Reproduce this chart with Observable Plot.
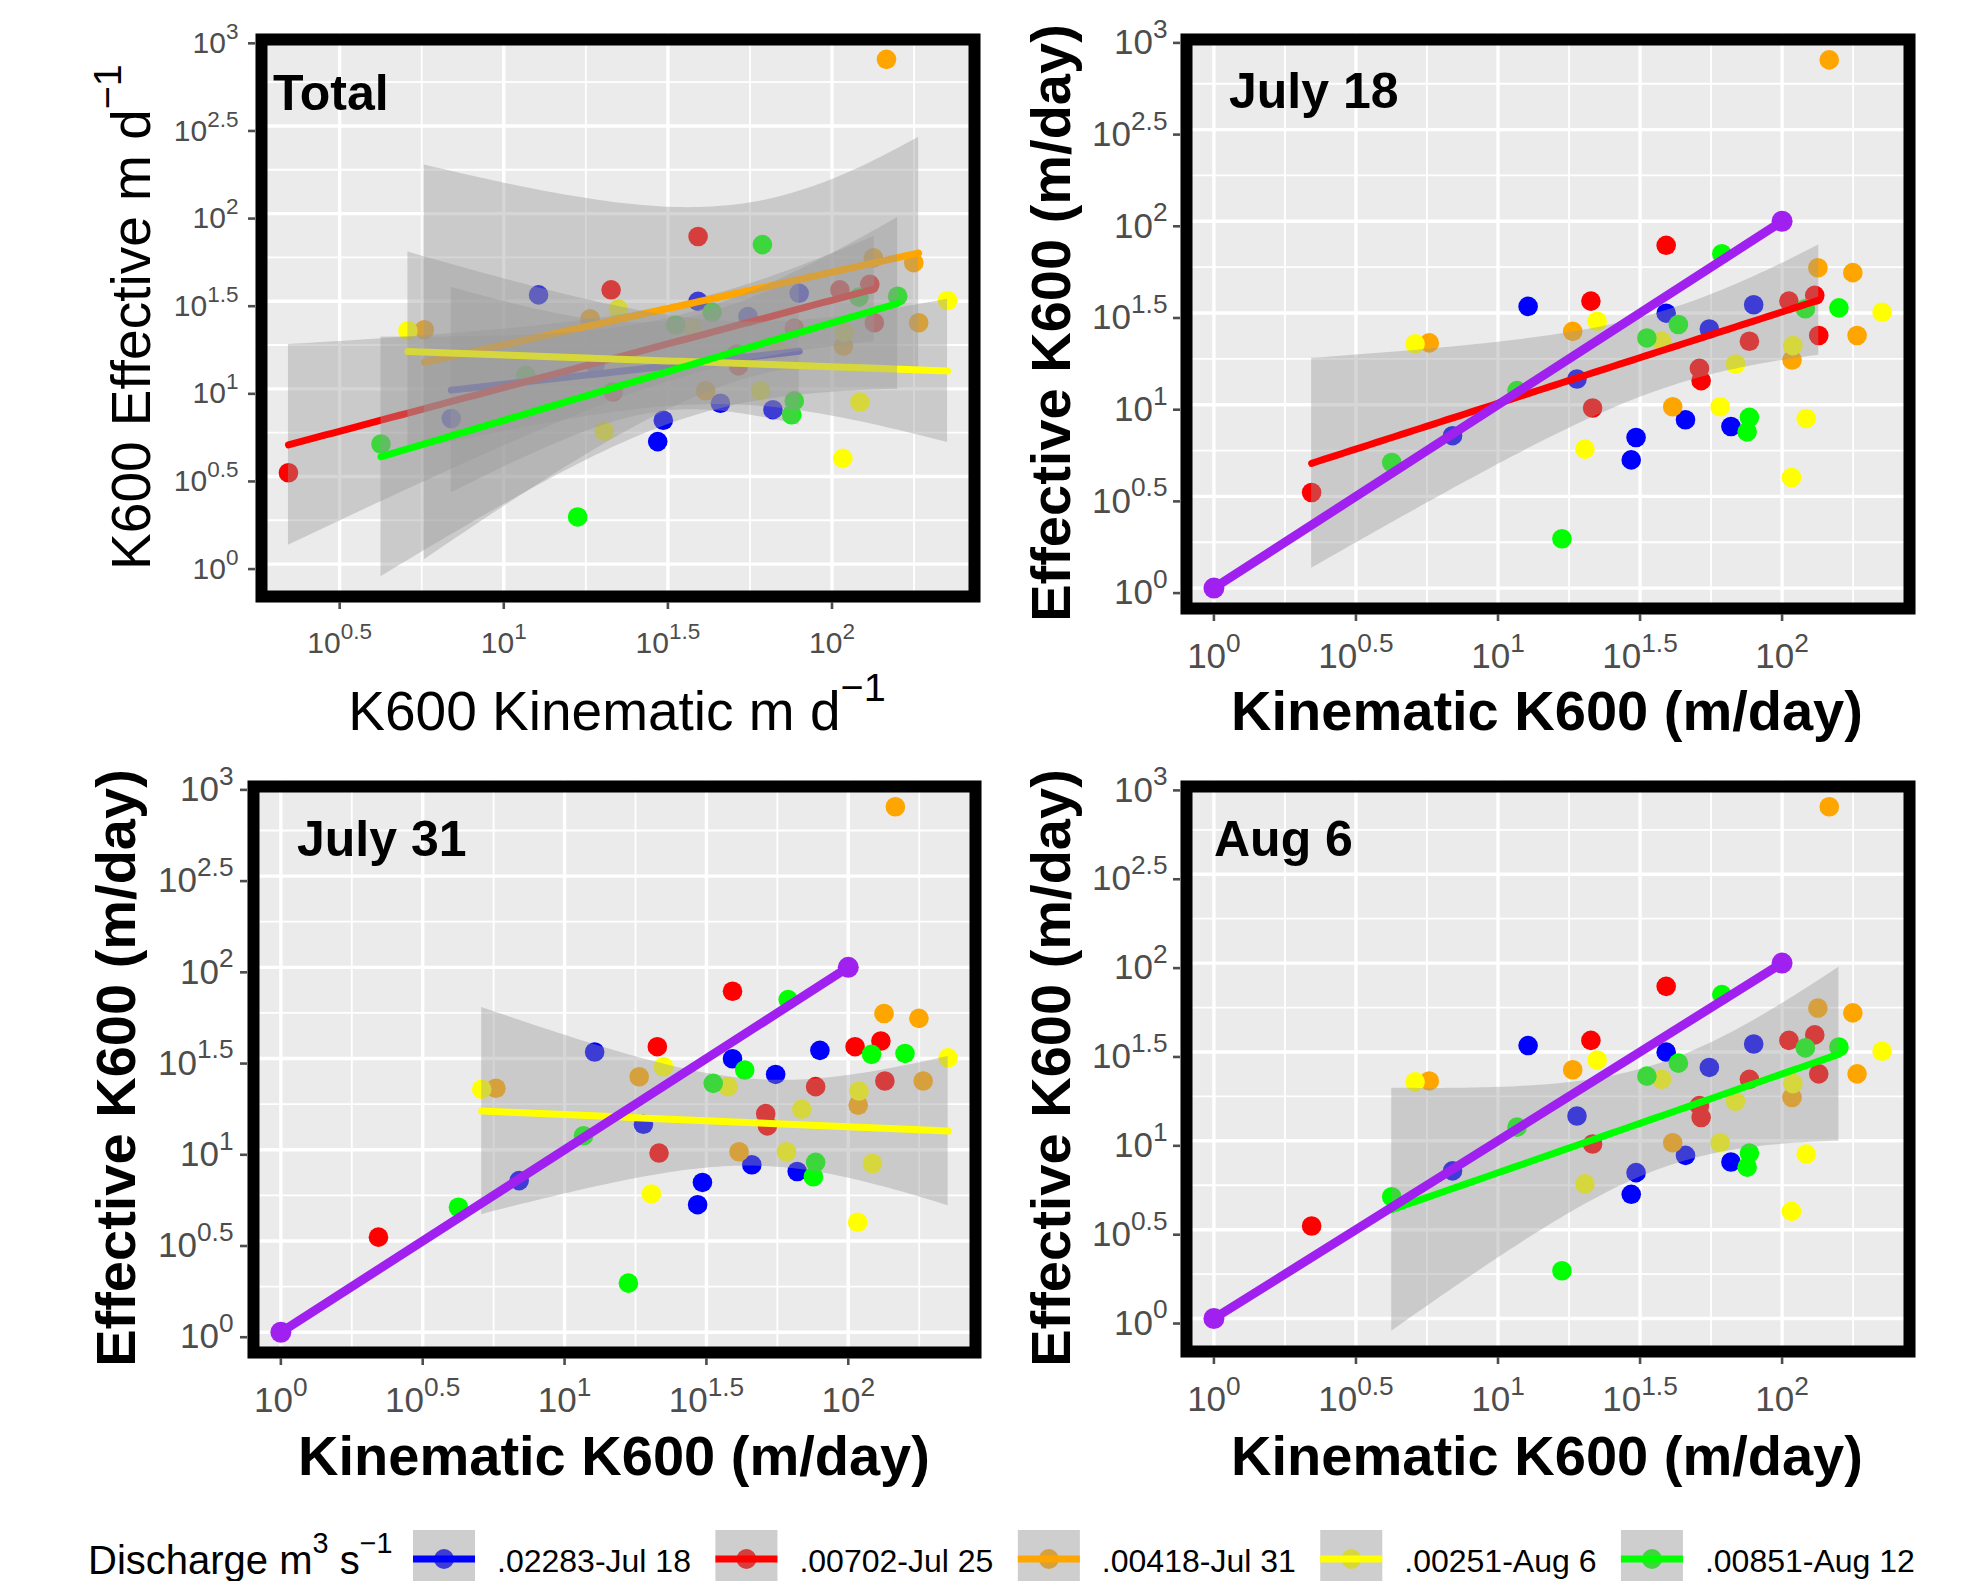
<!DOCTYPE html>
<html><head><meta charset="utf-8">
<script src="https://cdn.jsdelivr.net/npm/d3@7"></script>
<script src="https://cdn.jsdelivr.net/npm/@observablehq/plot@0.6"></script>
<style>
html,body{margin:0;padding:0;background:#fff;}
#root{position:relative;width:1963px;height:1581px;overflow:hidden;font-family:"Liberation Sans",Arial,sans-serif;}
#root > svg{position:absolute;}
</style></head><body><div id="root"></div>
<script>
// ---------- DATA (as log10 exponents) ----------
const seriesNames  = [".02283-Jul 18", ".00702-Jul 25", ".00418-Jul 31", ".00251-Aug 6", ".00851-Aug 12"];
const seriesColors = ["#0000FF", "#FF0000", "#FFA500", "#FFFF00", "#00FF00"];

const blueKin   = [1.106, 1.900, 1.592, 1.744, 1.278, 1.660, 1.820, 1.486, 1.469, 0.840];
const blueEff   = [1.536, 1.545, 1.499, 1.413, 1.140, 0.918, 0.881, 0.821, 0.699, 0.831];
const redKin    = [1.592, 1.327, 2.024, 2.115, 1.885, 2.129, 1.709, 1.715, 1.333, 0.344];
const redEff    = [1.869, 1.565, 1.565, 1.596, 1.346, 1.377, 1.198, 1.131, 0.982, 0.521];
const orangeKin = [2.166, 2.126, 2.249, 1.263, 2.264, 2.035, 1.615, 0.758];
const orangeEff = [2.880, 1.747, 1.720, 1.400, 1.377, 1.244, 0.989, 1.337];
const yellowKin = [1.349, 2.352, 1.576, 2.038, 1.836, 1.782, 2.085, 1.306, 2.033, 0.708];
const yellowEff = [1.455, 1.504, 1.346, 1.322, 1.222, 0.989, 0.925, 0.758, 0.603, 1.332];
const greenKin  = [1.788, 2.082, 2.200, 1.635, 1.524, 1.885, 1.877, 1.225, 1.067, 0.626];
const greenEff  = [1.823, 1.523, 1.528, 1.437, 1.364, 0.931, 0.852, 0.269, 1.077, 0.685];

const oneToOne  = [1, 100];                       // 1:1 reference line end points
const tickExps  = [0, 0.5, 1, 1.5, 2, 2.5, 3];    // tick labels 10^e
const panelTitles = ["Total", "July 18", "July 31", "Aug 6"];

// ---------- helpers ----------
const seriesKin = [blueKin, redKin, orangeKin, yellowKin, greenKin];
const seriesEff = [blueEff, redEff, orangeEff, yellowEff, greenEff];
const points = seriesNames.flatMap((s, i) =>
  seriesKin[i].map((k, j) => ({series: s, kin: 10 ** k, eff: 10 ** seriesEff[i][j]})));
const purpleData = oneToOne.map(v => ({x: v, y: v}));
const T975 = [NaN, 12.706, 4.303, 3.182, 2.776, 2.571, 2.447, 2.365, 2.306, 2.262, 2.228, 2.201, 2.179, 2.160, 2.145, 2.131];

function fitBand(xs, ys, nOut = 80) {           // lm with 95% confidence band, in log space
  const n = xs.length, mx = d3.mean(xs), my = d3.mean(ys);
  let sxx = 0, sxy = 0;
  for (let i = 0; i < n; i++) { sxx += (xs[i] - mx) ** 2; sxy += (xs[i] - mx) * (ys[i] - my); }
  const b = sxy / sxx, a = my - b * mx;
  let ssr = 0; for (let i = 0; i < n; i++) ssr += (ys[i] - a - b * xs[i]) ** 2;
  const s = Math.sqrt(ssr / (n - 2)), t = T975[n - 2];
  const [x0, x1] = d3.extent(xs);
  return d3.range(nOut).map(i => {
    const x = x0 + (x1 - x0) * i / (nOut - 1), yh = a + b * x;
    const se = s * Math.sqrt(1 / n + (x - mx) ** 2 / sxx);
    return {llo: yh - t * se, lhi: yh + t * se,
            x: 10 ** x, y: 10 ** yh, lo: 10 ** (yh - t * se), hi: 10 ** (yh + t * se)};
  });
}
const bands = seriesNames.map((s, i) => fitBand(seriesKin[i], seriesEff[i]));
const expand = ([a, b]) => { const d = (b - a) * 0.05; return [a - d, b + d]; };
const fmtTick = d => "10^" + (+Math.log10(d).toFixed(2));

const NS = "http://www.w3.org/2000/svg";
function superscriptTicks(svg, supDy) {
  svg.querySelectorAll('g[aria-label$="tick label"] text').forEach(t => {
    const s = t.textContent, k = s.indexOf("^");
    if (k < 0) return;
    while (t.firstChild) t.removeChild(t.firstChild);
    const a = document.createElementNS(NS, "tspan"); a.textContent = s.slice(0, k);
    const b = document.createElementNS(NS, "tspan"); b.textContent = s.slice(k + 1);
    b.setAttribute("font-size", "0.75em"); b.setAttribute("dy", supDy);
    t.append(a, b);
  });
}

const root = document.getElementById("root");

const panels = [
  {left: 0,   top: 0,   w: 990, h: 760, frame: [255, 980, 33, 602],   fits: [0, 1, 2, 3, 4], purple: false, font: 30, xPad: 22, yPad: 10},
  {left: 990, top: 0,   w: 973, h: 760, frame: [1180, 1915, 33, 614], fits: [1], purple: true, font: 35, xPad: 22, yPad: 6},
  {left: 0,   top: 760, w: 990, h: 760, frame: [247, 981, 780, 1358], fits: [3], purple: true, font: 35, xPad: 22, yPad: 7},
  {left: 990, top: 760, w: 973, h: 760, frame: [1180, 1915, 780, 1357], fits: [4], purple: true, font: 35, xPad: 22, yPad: 6}
];

panels.forEach(p => {
  const xl = points.map(d => Math.log10(d.kin));
  const yl = points.map(d => Math.log10(d.eff));
  p.fits.forEach(i => bands[i].forEach(b => { yl.push(b.llo, b.lhi); }));
  if (p.purple) oneToOne.forEach(v => { xl.push(Math.log10(v)); yl.push(Math.log10(v)); });
  const xd = expand(d3.extent(xl)), yd = expand(d3.extent(yl));
  const inX = e => e >= xd[0] && e <= xd[1], inY = e => e >= yd[0] && e <= yd[1];
  const minors = d3.range(-0.25, 3.3, 0.5);
  const xMaj = tickExps.filter(inX).map(e => 10 ** e), yMaj = tickExps.filter(inY).map(e => 10 ** e);
  const xMin = minors.filter(inX).map(e => 10 ** e), yMin = minors.filter(inY).map(e => 10 ** e);

  const marks = [
    Plot.frame({fill: "#EBEBEB"}),
    Plot.ruleX(xMin, {stroke: "white", strokeWidth: 1.8}),
    Plot.ruleY(yMin, {stroke: "white", strokeWidth: 1.8}),
    Plot.ruleX(xMaj, {stroke: "white", strokeWidth: 3.4}),
    Plot.ruleY(yMaj, {stroke: "white", strokeWidth: 3.4}),
    Plot.dot(points, {x: "kin", y: "eff", fill: "series", r: 9.8})
  ];
  p.fits.forEach(i => {
    marks.push(Plot.areaY(bands[i], {x: "x", y1: "lo", y2: "hi", fill: "#999999", fillOpacity: 0.4}));
    marks.push(Plot.line(bands[i], {x: "x", y: "y", stroke: seriesColors[i], strokeWidth: 7}));
  });
  if (p.purple) {
    marks.push(Plot.line(purpleData, {x: "x", y: "y", stroke: "#A020F0", strokeWidth: 9}));
    marks.push(Plot.dot(purpleData, {x: "x", y: "y", fill: "#A020F0", r: 10.5}));
  }
  marks.push(Plot.frame({stroke: "black", strokeWidth: 12, inset: 6}));
  marks.push(Plot.axisX({anchor: "bottom", ticks: xMaj, tickFormat: fmtTick, tickSize: 7, tickPadding: p.xPad,
    fontSize: p.font, color: "#4D4D4D", strokeWidth: 2.6, label: null}));
  marks.push(Plot.axisY({anchor: "left", ticks: yMaj, tickFormat: fmtTick, tickSize: 7, tickPadding: p.yPad,
    fontSize: p.font, color: "#4D4D4D", strokeWidth: 2.6, label: null, dy: 5}));

  const svg = Plot.plot({
    width: p.w, height: p.h,
    marginLeft: p.frame[0] - p.left, marginRight: p.left + p.w - p.frame[1],
    marginTop: p.frame[2] - p.top, marginBottom: p.top + p.h - p.frame[3],
    x: {type: "log", domain: [10 ** xd[0], 10 ** xd[1]]},
    y: {type: "log", domain: [10 ** yd[0], 10 ** yd[1]]},
    color: {domain: seriesNames, range: seriesColors},
    style: {fontFamily: "'Liberation Sans', Arial, sans-serif", background: "transparent", overflow: "visible"},
    marks
  });
  superscriptTicks(svg, "-0.62em");
  svg.style.left = p.left + "px"; svg.style.top = p.top + "px";
  root.appendChild(svg);
});

// ---------- overlay: axis titles, panel labels, legend ----------
const ov = d3.select(root).append("svg").attr("width", 1963).attr("height", 1581)
  .style("left", "0px").style("top", "0px").style("pointer-events", "none")
  .attr("font-family", "'Liberation Sans', Arial, sans-serif");

// parts: strings (normal) or {sup: "..."} (superscript); baseline restored on the next normal part
function addText({x, y, rot = 0, anchor = "middle", size, weight = "normal", parts, fill = "black"}) {
  const t = ov.append("text").attr("transform", `translate(${x},${y}) rotate(${rot})`)
    .attr("text-anchor", anchor).attr("font-size", size).attr("font-weight", weight).attr("fill", fill);
  let raised = false;
  parts.forEach(pt => {
    if (typeof pt === "string") {
      const ts = t.append("tspan").text(pt);
      if (raised) { ts.attr("dy", size * 0.52); raised = false; }
    } else {
      t.append("tspan").attr("font-size", size * 0.72).attr("dy", -size * 0.52).text(pt.sup);
      raised = true;
    }
  });
  return t;
}

const TS = 55;
addText({x: 617, y: 730, size: TS, parts: ["K600 Kinematic m d", {sup: "\u22121"}]});
addText({x: 150, y: 317, rot: -90, size: TS, parts: ["K600 Effective m d", {sup: "\u22121"}]});
addText({x: 1547, y: 730, size: TS + 1, weight: "bold", parts: ["Kinematic K600 (m/day)"]});
addText({x: 1070, y: 323, rot: -90, size: TS + 1, weight: "bold", parts: ["Effective  K600  (m/day)"]});
addText({x: 614, y: 1475, size: TS + 1, weight: "bold", parts: ["Kinematic K600 (m/day)"]});
addText({x: 135, y: 1068, rot: -90, size: TS + 1, weight: "bold", parts: ["Effective  K600  (m/day)"]});
addText({x: 1547, y: 1475, size: TS + 1, weight: "bold", parts: ["Kinematic K600 (m/day)"]});
addText({x: 1070, y: 1068, rot: -90, size: TS + 1, weight: "bold", parts: ["Effective  K600  (m/day)"]});

const labelPos = [[273, 110], [1229, 108], [297, 856], [1214, 856]];
panelTitles.forEach((s, i) => addText({x: labelPos[i][0], y: labelPos[i][1], anchor: "start", size: 50, weight: "bold", parts: [s]}));

// legend
addText({x: 88, y: 1574, anchor: "start", size: 40, parts: ["Discharge m", {sup: "3"}, " s", {sup: "\u22121"}]});
let lx = 413;
seriesNames.forEach((s, i) => {
  const g = ov.append("g");
  g.append("rect").attr("x", lx).attr("y", 1530).attr("width", 62).attr("height", 60).attr("fill", "#F2F2F2");
  g.append("circle").attr("cx", lx + 31).attr("cy", 1559).attr("r", 10).attr("fill", seriesColors[i]);
  g.append("rect").attr("x", lx).attr("y", 1530).attr("width", 62).attr("height", 60).attr("fill", "#999999").attr("fill-opacity", 0.4);
  g.append("line").attr("x1", lx).attr("x2", lx + 62).attr("y1", 1559).attr("y2", 1559)
    .attr("stroke", seriesColors[i]).attr("stroke-width", 7);
  const t = addText({x: lx + 84, y: 1572, anchor: "start", size: 32, parts: [s]});
  lx = lx + 84 + t.node().getComputedTextLength() + 24.5;
});
</script></body></html>
